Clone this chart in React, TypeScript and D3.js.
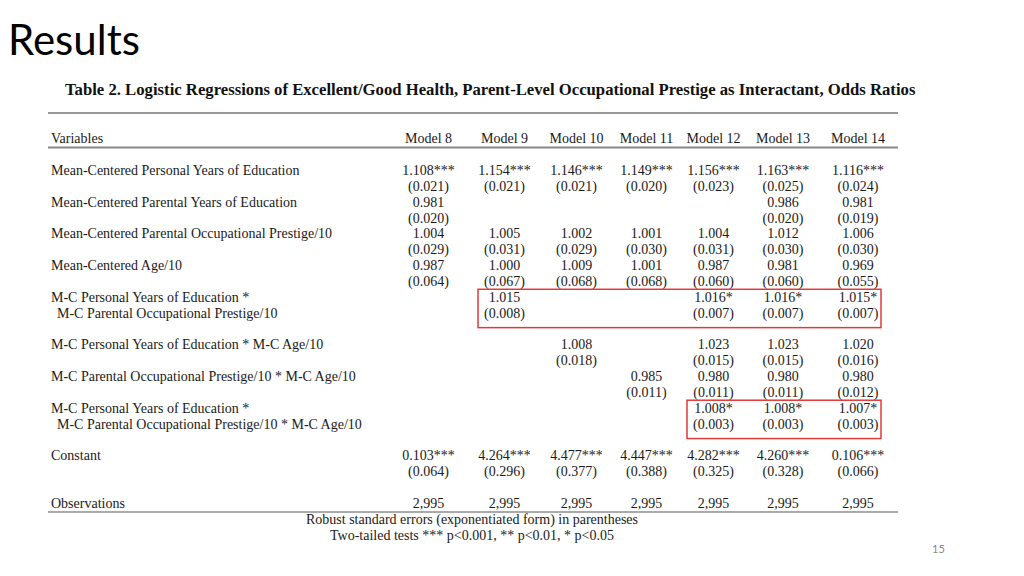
import React from "react";
import * as d3 from "d3";

const models = ["Model 8", "Model 9", "Model 10", "Model 11", "Model 12", "Model 13", "Model 14"];

// Each table line: label text (with indent flag) and the 7 cell strings
const labelLines: [number, string, boolean][] = [
  [0, "Mean-Centered Personal Years of Education", false],
  [2, "Mean-Centered Parental Years of Education", false],
  [4, "Mean-Centered Parental Occupational Prestige/10", false],
  [6, "Mean-Centered Age/10", false],
  [8, "M-C Personal Years of Education *", false],
  [9, "M-C Parental Occupational Prestige/10", true],
  [11, "M-C Personal Years of Education * M-C Age/10", false],
  [13, "M-C Parental Occupational Prestige/10 * M-C Age/10", false],
  [15, "M-C Personal Years of Education *", false],
  [16, "M-C Parental Occupational Prestige/10 * M-C Age/10", true],
  [18, "Constant", false],
  [21, "Observations", false],
];

const personalEduOR = ["1.108***", "1.154***", "1.146***", "1.149***", "1.156***", "1.163***", "1.116***"];
const personalEduSE = ["(0.021)", "(0.021)", "(0.021)", "(0.020)", "(0.023)", "(0.025)", "(0.024)"];
const parentalEduOR = ["0.981", "", "", "", "", "0.986", "0.981"];
const parentalEduSE = ["(0.020)", "", "", "", "", "(0.020)", "(0.019)"];
const prestigeOR = ["1.004", "1.005", "1.002", "1.001", "1.004", "1.012", "1.006"];
const prestigeSE = ["(0.029)", "(0.031)", "(0.029)", "(0.030)", "(0.031)", "(0.030)", "(0.030)"];
const ageOR = ["0.987", "1.000", "1.009", "1.001", "0.987", "0.981", "0.969"];
const ageSE = ["(0.064)", "(0.067)", "(0.068)", "(0.068)", "(0.060)", "(0.060)", "(0.055)"];
const eduXprestigeOR = ["", "1.015", "", "", "1.016*", "1.016*", "1.015*"];
const eduXprestigeSE = ["", "(0.008)", "", "", "(0.007)", "(0.007)", "(0.007)"];
const eduXageOR = ["", "", "1.008", "", "1.023", "1.023", "1.020"];
const eduXageSE = ["", "", "(0.018)", "", "(0.015)", "(0.015)", "(0.016)"];
const prestigeXageOR = ["", "", "", "0.985", "0.980", "0.980", "0.980"];
const prestigeXageSE = ["", "", "", "(0.011)", "(0.011)", "(0.011)", "(0.012)"];
const threeWayOR = ["", "", "", "", "1.008*", "1.008*", "1.007*"];
const threeWaySE = ["", "", "", "", "(0.003)", "(0.003)", "(0.003)"];
const constantOR = ["0.103***", "4.264***", "4.477***", "4.447***", "4.282***", "4.260***", "0.106***"];
const constantSE = ["(0.064)", "(0.296)", "(0.377)", "(0.388)", "(0.325)", "(0.328)", "(0.066)"];
const observations = ["2,995", "2,995", "2,995", "2,995", "2,995", "2,995", "2,995"];

const cellLines: [number, string[]][] = [
  [0, personalEduOR], [1, personalEduSE],
  [2, parentalEduOR], [3, parentalEduSE],
  [4, prestigeOR], [5, prestigeSE],
  [6, ageOR], [7, ageSE],
  [8, eduXprestigeOR], [9, eduXprestigeSE],
  [11, eduXageOR], [12, eduXageSE],
  [13, prestigeXageOR], [14, prestigeXageSE],
  [15, threeWayOR], [16, threeWaySE],
  [18, constantOR], [19, constantSE],
  [21, observations],
];

// highlighted blocks: [first model idx, last model idx, first line, last line]
const highlights: [number, number, number, number][] = [
  [1, 6, 8, 9],
  [4, 6, 15, 16],
];

const footnotes = [
  "Robust standard errors (exponentiated form) in parentheses",
  "Two-tailed tests *** p<0.001, ** p<0.01, * p<0.05",
];

export default function App() {
  const W = 1024, H = 576;
  const x = d3.scaleOrdinal<string, number>()
    .domain(models)
    .range([428.5, 504.5, 576.5, 646.5, 713.5, 783, 858]);
  const y = d3.scaleLinear().domain([0, 21]).range([175, 507.8]);
  const serif = "'Liberation Serif', 'Times New Roman', serif";
  const fs = 14;
  const left = 48, right = 898;

  return (
    <svg width={W} height={H} style={{ position: "absolute", left: 0, top: 0, background: "#fff" }}>
      <text x={8} y={55} fontFamily="Lato, 'Open Sans', sans-serif" fontSize={42} fill="#000">Results</text>

      <text x={65} y={95} fontFamily={serif} fontSize={16.7} fontWeight="bold" fill="#111">
        Table 2. Logistic Regressions of Excellent/Good Health, Parent-Level Occupational Prestige as Interactant, Odds Ratios
      </text>

      <line x1={left} x2={right} y1={113} y2={113} stroke="#333" strokeWidth={1} />
      <text x={51} y={y(-2)} fontFamily={serif} fontSize={fs} fill="#1a1a1a">Variables</text>
      {models.map((m) => (
        <text key={m} x={x(m)} y={y(-2)} textAnchor="middle" fontFamily={serif} fontSize={fs} fill="#1a1a1a">{m}</text>
      ))}
      <line x1={left} x2={right} y1={147.5} y2={147.5} stroke="#888" strokeWidth={2} />

      {labelLines.map(([li, t, ind], i) => (
        <text key={i} x={ind ? 57 : 51} y={y(li)} fontFamily={serif} fontSize={fs} fill="#1a1a1a" xmlSpace="preserve">{t}</text>
      ))}

      {cellLines.map(([li, vals]) =>
        vals.map((v, j) => v ? (
          <text key={li + "-" + j} x={x(models[j])} y={y(li)} textAnchor="middle" fontFamily={serif} fontSize={fs} fill="#1a1a1a">{v}</text>
        ) : null)
      )}

      <line x1={left} x2={right} y1={512} y2={512} stroke="#555" strokeWidth={1.2} />

      {highlights.map(([a, b, l0, l1], i) => {
        const x0 = x(models[a]) - 26.5;
        const x1 = x(models[b]) + 23;
        const y0 = y(l0) - 12.5;
        const y1 = y(l1) + 10;
        return <rect key={i} x={x0} y={y0} width={x1 - x0} height={y1 - y0} fill="none" stroke="#e03a3a" strokeWidth={1.5} />;
      })}

      {footnotes.map((f, i) => (
        <text key={i} x={472} y={524 + i * 16} textAnchor="middle" fontFamily={serif} fontSize={fs} fill="#1a1a1a">{f}</text>
      ))}

      <text x={938.5} y={553} textAnchor="middle" fontFamily="Lato, 'Open Sans', sans-serif" fontSize={11} fill="#888">15</text>
    </svg>
  );
}
